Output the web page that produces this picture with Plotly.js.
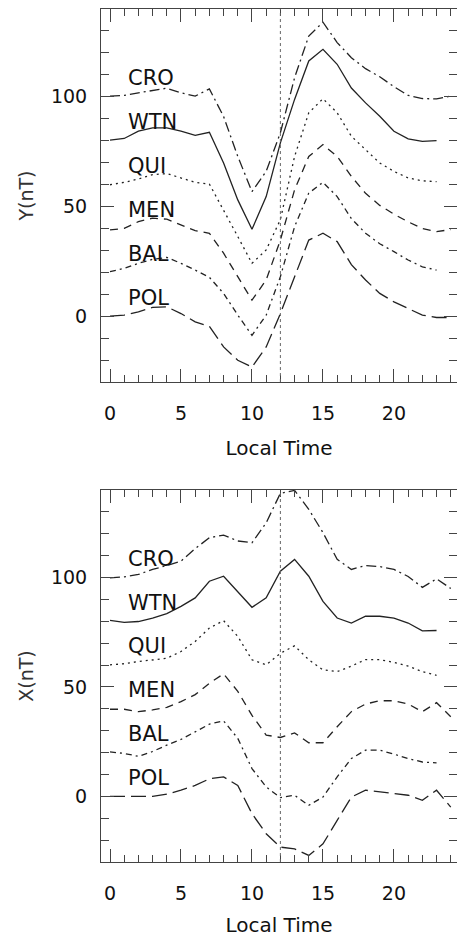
<!DOCTYPE html>
<html>
<head>
<meta charset="utf-8">
<script src="https://cdn.plot.ly/plotly-3.0.1.min.js"></script>
<style>html,body{margin:0;padding:0;background:#fff;}#chart{width:457px;height:937px;}</style>
</head>
<body>
<div id="chart"></div>
<script>
// Local time (hours)
const hours = [0,1,2,3,4,5,6,7,8,9,10,11,12,13,14,15,16,17,18,19,20,21,22,23,24];
const stations = ['CRO','WTN','QUI','MEN','BAL','POL'];
const xTickVals = [0,5,10,15,20];
const yTickVals = [0,50,100];
const noonLT = 12;

// Y component (nT, offset per station as plotted)
const CRO_Y = [100.3,100.6,101.8,103,103.9,101.8,100.3,103.6,91,72.8,56.8,66,83.6,108.7,127.7,134,124.7,117.8,112.8,109.1,104.6,100.6,99.2,99,100.3];
const WTN_Y = [80.2,81,84.3,85.8,85.8,84.3,82.4,83.8,69.8,53,39.6,54.5,79,98.8,116.3,121.6,114.8,104,97.2,91.1,84.3,80.8,79.7,80];
const QUI_Y = [59.9,61,62.5,64.5,65,63,61,60.2,48.5,36.3,24.1,30.2,44,72.8,92.7,99.1,92.7,82,75.9,69.8,66,63,61.7,61.3];
const MEN_Y = [39.3,40,43.1,44.7,44.2,41.6,39,37.8,28.7,18,7.3,16.5,34.7,57.6,72.8,78.2,72.8,63.7,56,50.5,46.5,43,40,38.5,39.5];
const BAL_Y = [20.3,21.8,24.1,25.9,26.8,24.1,21,17.7,10.4,0.5,-8.7,0.5,18,40.8,56.1,61,54.5,44.5,37.8,33,29.4,25.6,22.5,21];
const POL_Y = [0,0.5,2,4,4.3,1.2,-2.6,-4.6,-14,-20.1,-23.2,-14,1.2,18,34.7,37.8,34,23.5,16.5,10.4,6.5,3.5,0.5,-0.6,-0.6];

// X component (nT, offset per station as plotted)
const CRO_X = [99.8,100.3,101.4,103.7,105.5,107.5,113.2,118.2,119.4,116.7,115.9,125,138.5,139.8,131.2,120.5,108.3,103.7,105.5,105,103.7,100.5,95.5,99.4,95];
const WTN_X = [80.4,79.5,79.9,81.5,83.5,86.8,90.7,98.3,100.6,93.7,86.4,90.7,102.9,108.3,100.6,89.1,81.5,79.2,82.3,82.3,81.5,79.2,75.6,75.8];
const QUI_X = [60.1,60.6,61.6,62.4,63.1,66.2,70.8,76.9,80.3,73.1,62.4,60.1,65.4,68.8,62.4,57.8,57,59.5,62.5,62.5,61.2,59.5,57,55.3];
const MEN_X = [39.8,39.8,38.7,39.5,40.7,43.3,46.5,51.7,56,48,37,28,26.9,29,24.5,24.5,31.8,38.7,42.2,43.7,43.7,42.2,38.7,42.8,36.4];
const BAL_X = [20.3,19.6,18.3,20.5,23.4,26,29.5,33,34.5,26.5,12.7,4.3,-0.6,0.5,-4.1,-0.3,8.9,17.3,21.1,21.1,19.3,17.3,15.7,15.3];
const POL_X = [0,0,0,0,1,2.8,5,8,8.9,5,-7.9,-17.1,-23.2,-24,-27,-21.7,-11,-0.3,2.8,2,1.2,0.5,-1.8,2.8,-4.9];

const seriesY = [CRO_Y, WTN_Y, QUI_Y, MEN_Y, BAL_Y, POL_Y];
const seriesX = [CRO_X, WTN_X, QUI_X, MEN_X, BAL_X, POL_X];

const dashes = ['10px,4px,2px,4px', 'solid', '2px,4px', '8px,6px', '6px,4px,2px,4px', '15px,6px'];
const lineColor = '#222';

const traces = [];
function addSet(arrs, xa, ya) {
  arrs.forEach((vals, i) => {
    traces.push({
      x: hours.slice(0, vals.length), y: vals, xaxis: xa, yaxis: ya,
      type: 'scatter', mode: 'lines', hoverinfo: 'skip', showlegend: false,
      line: {color: lineColor, width: 1.3, dash: dashes[i]}
    });
  });
}
addSet(seriesY, 'x', 'y');
addSet(seriesX, 'x2', 'y2');

const tickFont = {family: 'DejaVu Sans', size: 19, color: '#111'};
const titleFont = {family: 'DejaVu Sans', size: 20, color: '#111'};
const axisColor = '#444';

function xAxis(anchor) {
  return {
    anchor: anchor, domain: [0, 1], range: [-0.634, 24.44],
    tickvals: xTickVals, ticktext: xTickVals.map(String),
    ticks: 'inside', ticklen: 13, tickwidth: 1, tickcolor: axisColor,
    minor: {dtick: 1, tick0: 0, ticks: 'inside', ticklen: 7, tickwidth: 1, tickcolor: axisColor},
    mirror: 'allticks', showline: true, linecolor: axisColor, linewidth: 1,
    showgrid: false, zeroline: false, tickfont: tickFont, ticklabelstandoff: 14,
    title: {text: 'Local Time', font: titleFont, standoff: 18}
  };
}
function yAxis(anchor, dom, ttl) {
  return {
    anchor: anchor, domain: dom, range: [-30, 140],
    tickvals: yTickVals, ticktext: yTickVals.map(String),
    ticks: 'inside', ticklen: 13, tickwidth: 1, tickcolor: axisColor,
    minor: {dtick: 10, tick0: 0, ticks: 'inside', ticklen: 8, tickwidth: 1, tickcolor: axisColor},
    mirror: 'allticks', showline: true, linecolor: axisColor, linewidth: 1,
    showgrid: false, zeroline: false, tickfont: tickFont, ticklabelstandoff: 9,
    title: {text: ttl, font: {family: 'DejaVu Sans', size: 19, color: '#333'}, standoff: 12}
  };
}

const annotations = [];
['x', 'x2'].forEach((xa, k) => {
  const ya = k === 0 ? 'y' : 'y2';
  stations.forEach((s, i) => {
    annotations.push({
      x: 1.1, y: 108.5 - 20 * i, xref: xa, yref: ya, text: s, showarrow: false,
      xanchor: 'left', yanchor: 'middle',
      font: {family: 'DejaVu Sans', size: 21, color: '#111'}
    });
  });
});

const shapes = [
  {type: 'line', xref: 'x', yref: 'y domain', x0: noonLT, x1: noonLT, y0: 0, y1: 1,
   line: {color: '#666', width: 1, dash: 'dot'}},
  {type: 'line', xref: 'x2', yref: 'y2 domain', x0: noonLT, x1: noonLT, y0: 0, y1: 1,
   line: {color: '#666', width: 1, dash: 'dot'}}
];

const layout = {
  width: 457, height: 937,
  margin: {l: 101, r: 0, t: 9, b: 75, pad: 0},
  paper_bgcolor: '#fff', plot_bgcolor: '#fff',
  xaxis: xAxis('y'),
  yaxis: yAxis('x', [0.5627, 1], 'Y(nT)'),
  xaxis2: xAxis('y2'),
  yaxis2: yAxis('x2', [0, 0.4361], 'X(nT)'),
  annotations: annotations,
  shapes: shapes,
  showlegend: false
};

Plotly.newPlot('chart', traces, layout, {staticPlot: true, displayModeBar: false});
</script>
</body>
</html>
